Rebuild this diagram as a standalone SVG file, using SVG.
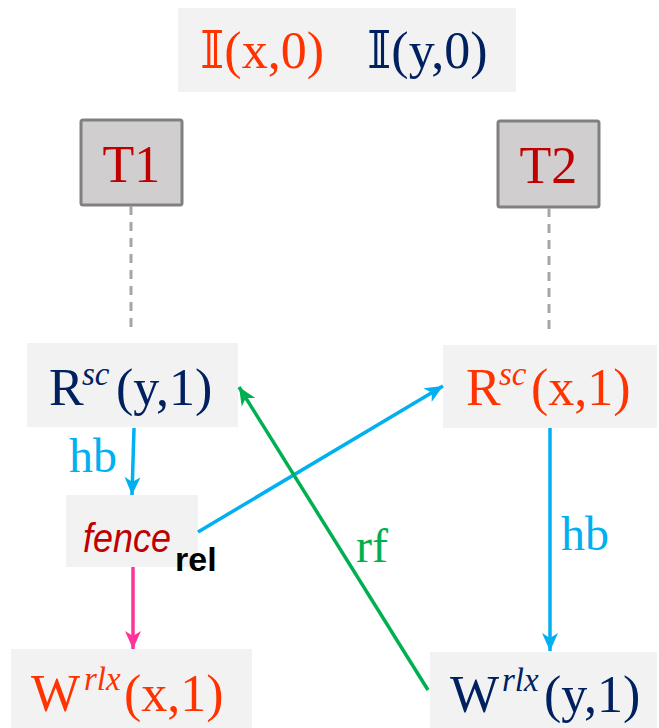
<svg xmlns="http://www.w3.org/2000/svg" width="659" height="728" viewBox="0 0 659 728">
<style>
.box{fill:#f2f2f2}
.th{fill:#d0cece;stroke:#808080;stroke-width:3}
.m{font-family:"Liberation Serif","DejaVu Serif",serif;font-size:52px}
.sup{font-family:"Liberation Serif","DejaVu Serif",serif;font-size:33px;font-style:italic}
.red{fill:#ff3300}
.navy{fill:#002060}
.dk{fill:#c00000}
.lbl{font-family:"Liberation Serif","DejaVu Serif",serif;font-size:48px}
.dash{stroke:#a6a6a6;stroke-width:3;stroke-dasharray:9 7;fill:none}
.ln{fill:none;stroke-width:3.5}
</style>
<defs>
<marker id="ab" markerUnits="userSpaceOnUse" markerWidth="22" markerHeight="20" refX="18" refY="9" orient="auto"><path d="M0,1 L18,9 L0,17 L5,9 Z" fill="#00b0f0"/></marker>
<marker id="ag" markerUnits="userSpaceOnUse" markerWidth="22" markerHeight="20" refX="18" refY="9" orient="auto"><path d="M0,1 L18,9 L0,17 L5,9 Z" fill="#00b050"/></marker>
<marker id="ap" markerUnits="userSpaceOnUse" markerWidth="22" markerHeight="20" refX="18" refY="9" orient="auto"><path d="M0,1 L18,9 L0,17 L5,9 Z" fill="#ff3399"/></marker>
</defs>

<g id="init">
<rect class="box" x="178" y="8" width="338" height="84"/>
<text class="m red" x="200" y="68" font-size="55">𝕀(x,0)</text>
<text class="m navy" x="367" y="68" font-size="55">𝕀(y,0)</text>
</g>

<g id="T1">
<rect class="th" x="81" y="120" width="101" height="85" rx="2"/>
<text class="m dk" x="131.500" y="182" text-anchor="middle" font-size="53">T1</text>
</g>
<g id="T2">
<rect class="th" x="498" y="121" width="101" height="86" rx="2"/>
<text class="m dk" x="548.500" y="183" text-anchor="middle" font-size="53">T2</text>
</g>

<g id="Ry">
<rect class="box" x="27" y="343" width="211" height="84"/>
<text class="m navy" x="49" y="405">R</text>
<text class="sup navy" x="82" y="385">sc</text>
<text class="m navy" x="116" y="405">(y,1)</text>
</g>

<g id="Rx">
<rect class="box" x="443" y="345" width="214" height="83"/>
<text class="m red" x="466" y="405">R</text>
<text class="sup red" x="499" y="385">sc</text>
<text class="m red" x="531" y="405">(x,1)</text>
</g>

<g id="fence">
<rect class="box" x="66" y="495" width="132" height="72"/>
<text transform="translate(83,552) scale(1,1.12)" font-family="'Liberation Sans',Arial,sans-serif" font-style="italic" font-size="36" fill="#c00000">fence</text>
<text x="175" y="571" font-family="'Liberation Sans',Arial,sans-serif" font-weight="bold" font-size="34" fill="#000000">rel</text>
</g>

<g id="Wx">
<rect class="box" x="11" y="649" width="241" height="79"/>
<text class="m red" x="31" y="711">W</text>
<text class="sup red" x="84" y="690">rlx</text>
<text class="m red" x="124" y="711">(x,1)</text>
</g>

<g id="Wy">
<rect class="box" x="430" y="652" width="227" height="76"/>
<text class="m navy" x="450" y="712">W</text>
<text class="sup navy" x="502" y="691">rlx</text>
<text class="m navy" x="544" y="712">(y,1)</text>
</g>

<g id="connectors">
<line class="dash" x1="131" y1="206" x2="131" y2="334"/>
<line class="dash" x1="549" y1="208" x2="549" y2="336"/>
<line class="ln" stroke="#00b0f0" x1="134" y1="428" x2="132" y2="495" marker-end="url(#ab)"/>
<line class="ln" stroke="#ff3399" x1="133" y1="567" x2="133" y2="649" marker-end="url(#ap)"/>
<line class="ln" stroke="#00b0f0" x1="198" y1="532" x2="443" y2="386" marker-end="url(#ab)"/>
<line class="ln" stroke="#00b050" x1="428" y1="690" x2="239" y2="387" marker-end="url(#ag)"/>
<line class="ln" stroke="#00b0f0" x1="550" y1="428" x2="550" y2="651" marker-end="url(#ab)"/>
<text class="lbl" x="69" y="472" fill="#00b0f0">hb</text>
<text class="lbl" x="561" y="550" fill="#00b0f0">hb</text>
<text class="lbl" x="356" y="562" fill="#00b050">rf</text>
</g>
</svg>
